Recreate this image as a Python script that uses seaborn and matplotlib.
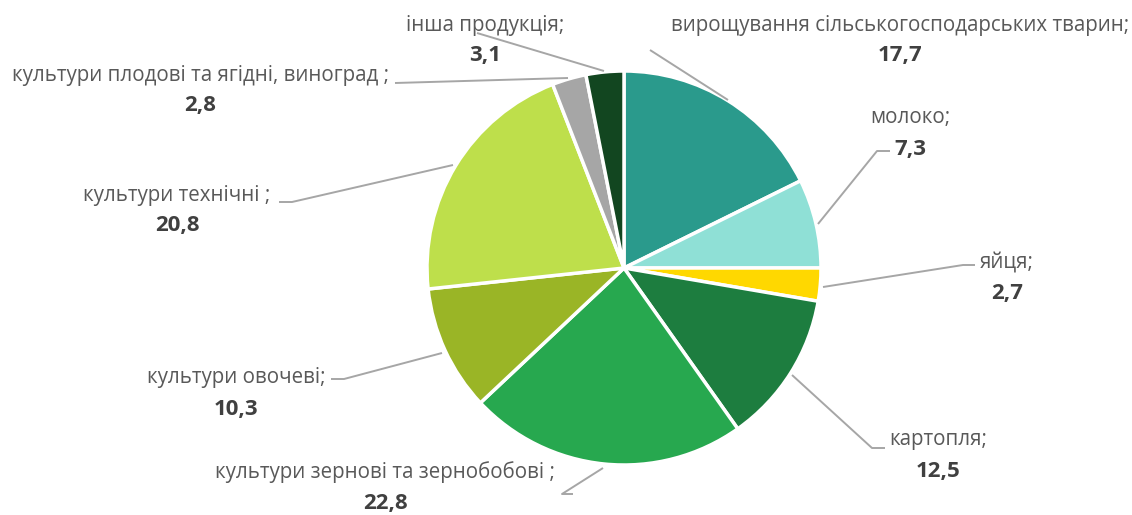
import matplotlib
matplotlib.use('Agg')
import matplotlib.pyplot as plt
import seaborn as sns

sns.set_theme(style='white')
plt.rcParams['font.family'] = ['Open Sans', 'DejaVu Sans']

# data, clockwise from 12 o'clock
categories = [
    'вирощування сільськогосподарських тварин;',
    'молоко;',
    'яйця;',
    'картопля;',
    'культури зернові та зернобобові ;',
    'культури овочеві;',
    'культури технічні ;',
    'культури плодові та ягідні, виноград ;',
    'інша продукція;',
]
shares = [17.7, 7.3, 2.7, 12.5, 22.8, 10.3, 20.8, 2.8, 3.1]
colors = ['#2A9A8C', '#8FE0D6', '#FFD800', '#1D7D3F', '#27A84F',
          '#9AB526', '#BEDF4B', '#A6A6A6', '#124620']

W, H = 1132, 515
# label placement (pixel coords, y from top) and leader lines
label_pos = [(900, 25), (910, 118), (1007, 262), (938, 440), (385, 472),
             (236, 378), (177, 195), (200, 75), (485, 25)]
leaders = [
    [(650, 50), (728, 100)],
    [(890, 151), (877, 151), (818, 224)],
    [(975, 265), (963, 265), (823, 287)],
    [(885, 448), (872, 448), (792, 375)],
    [(573, 494), (562, 494), (603, 468)],
    [(331, 379), (344, 379), (442, 353)],
    [(279, 202), (292, 202), (453, 165)],
    [(395, 83), (568, 78)],
    [(477, 33), (604, 71)],
]


def fmt(v: float) -> str:
    return f'{v:.1f}'.replace('.', ',')


fig = plt.figure(figsize=(W / 100, H / 100), dpi=100)
ax = fig.add_axes([0, 0, 1, 1])
ax.pie(shares, colors=colors, startangle=90, counterclock=False,
       center=(624, H - 268), radius=197,
       wedgeprops=dict(edgecolor='white', linewidth=2.5))

for pts in leaders:
    xs = [p[0] for p in pts]
    ys = [H - p[1] for p in pts]
    ax.plot(xs, ys, color='#A6A6A6', lw=1.4, solid_capstyle='butt', zorder=1)

for cat, v, (x, y) in zip(categories, shares, label_pos):
    ax.text(x, H - y, cat, ha='center', va='center', fontsize=14.8, color='#595959')
    ax.text(x, H - y - 31, fmt(v), ha='center', va='center', fontsize=16,
            fontweight='bold', color='#404040')

ax.set_xlim(0, W)
ax.set_ylim(0, H)
ax.set_aspect('equal')
ax.axis('off')
fig.savefig('out.png', dpi=100, facecolor='white')
